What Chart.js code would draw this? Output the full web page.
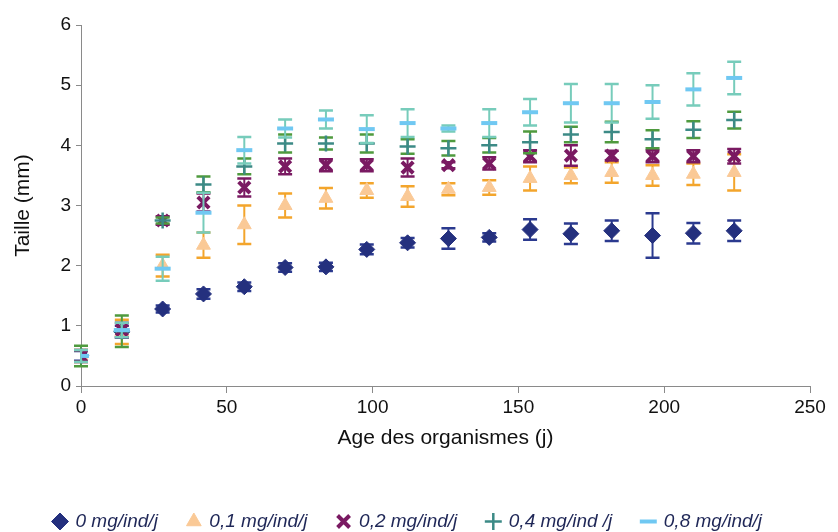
<!DOCTYPE html>
<html>
<head>
<meta charset="utf-8">
<style>
  html, body { margin: 0; padding: 0; background: #fff; }
  #wrap { width: 838px; height: 532px; }
</style>
<script src="https://cdn.jsdelivr.net/npm/chart.js@4.4.1/dist/chart.umd.min.js"></script>
</head>
<body>
<div id="wrap"><canvas id="myCanvas" width="838" height="532"></canvas></div>
<script>
'use strict';

// days (x)
var days = [0, 14, 28, 42, 56, 70, 84, 98, 112, 126, 140, 154, 168, 182, 196, 210, 224];

// series labels
var seriesNames = ['0 mg/ind/j', '0,1 mg/ind/j', '0,2 mg/ind/j', '0,4 mg/ind /j', '0,8 mg/ind/j'];

// mean size (mm) per series
var dose0  = [0.5, 0.9, 1.28, 1.53, 1.65, 1.97, 1.98, 2.27, 2.38, 2.45, 2.47, 2.6, 2.53, 2.58, 2.5, 2.54, 2.58];
var dose01 = [0.5, 0.9, 2.0, 2.34, 2.68, 3.0, 3.12, 3.25, 3.15, 3.27, 3.3, 3.45, 3.5, 3.55, 3.5, 3.52, 3.55];
var dose02 = [0.5, 0.93, 2.75, 3.05, 3.3, 3.65, 3.67, 3.67, 3.63, 3.67, 3.7, 3.82, 3.83, 3.83, 3.82, 3.82, 3.82];
var dose04 = [0.5, 0.91, 2.75, 3.35, 3.65, 4.03, 4.03, 4.03, 3.98, 3.95, 4.0, 4.05, 4.18, 4.22, 4.1, 4.26, 4.42];
var dose08 = [0.5, 0.93, 1.95, 2.88, 3.92, 4.28, 4.43, 4.27, 4.37, 4.28, 4.37, 4.55, 4.7, 4.7, 4.72, 4.93, 5.12];

// error (+/-) per series
var err0  = [0.08, 0.1, 0.06, 0.08, 0.07, 0.07, 0.07, 0.08, 0.08, 0.17, 0.07, 0.17, 0.17, 0.17, 0.37, 0.17, 0.17];
var err01 = [0.1, 0.2, 0.18, 0.21, 0.32, 0.2, 0.17, 0.12, 0.17, 0.1, 0.12, 0.2, 0.13, 0.17, 0.17, 0.18, 0.3];
var err02 = [0.1, 0.12, 0.07, 0.15, 0.15, 0.13, 0.1, 0.1, 0.15, 0.05, 0.1, 0.1, 0.17, 0.08, 0.1, 0.1, 0.12];
var err04 = [0.17, 0.26, 0.05, 0.13, 0.13, 0.15, 0.1, 0.15, 0.12, 0.12, 0.12, 0.18, 0.13, 0.17, 0.15, 0.14, 0.14];
var err08 = [0.1, 0.12, 0.2, 0.33, 0.22, 0.15, 0.15, 0.23, 0.23, 0.05, 0.23, 0.22, 0.32, 0.32, 0.28, 0.27, 0.27];

// ticks
var xTicks = [0, 50, 100, 150, 200, 250];
var yTicks = [0, 1, 2, 3, 4, 5, 6];

var FONT = '"Liberation Sans", Arial, sans-serif';

function toPoints(values) {
    return days.map(function (d, i) { return { x: d, y: values[i] }; });
}

// draw error bars under each dataset's markers
var errorBars = {
    id: 'errorBars',
    beforeDatasetDraw: function (chart, args) {
        var ds = chart.data.datasets[args.index];
        if (!ds.errors) return;
        var yScale = chart.scales.y,
            ctx = chart.ctx;
        ctx.save();
        ctx.strokeStyle = ds.errorColor;
        args.meta.data.forEach(function (pt, i) {
            var v = ds.data[i].y,
                e = ds.errors[i],
                top = yScale.getPixelForValue(v + e),
                bot = yScale.getPixelForValue(v - e),
                x = pt.x;
            ctx.lineWidth = 2;
            ctx.beginPath();
            ctx.moveTo(x, top);
            ctx.lineTo(x, bot);
            ctx.stroke();
            ctx.lineWidth = 2.5;
            ctx.beginPath();
            ctx.moveTo(x - 7, top); ctx.lineTo(x + 7, top);
            ctx.moveTo(x - 7, bot); ctx.lineTo(x + 7, bot);
            ctx.stroke();
        });
        ctx.restore();
    }
};

var ctx = document.getElementById('myCanvas').getContext('2d');
var chart = new Chart(ctx, {
    type: 'scatter',
    data: {
        datasets: [
            {
                label: seriesNames[0],
                data: toPoints(dose0),
                errors: err0,
                errorColor: '#2b3a8f',
                pointStyle: 'rectRot',
                pointRadius: 8,
                backgroundColor: '#24307e',
                borderColor: '#24307e',
                borderWidth: 1,
                order: 5
            },
            {
                label: seriesNames[1],
                data: toPoints(dose01),
                errors: err01,
                errorColor: '#f3a52c',
                pointStyle: 'triangle',
                pointRadius: 8,
                backgroundColor: '#fac996',
                borderColor: '#fac996',
                borderWidth: 1,
                order: 4
            },
            {
                label: seriesNames[2],
                data: toPoints(dose02),
                errors: err02,
                errorColor: '#7a1a62',
                pointStyle: 'crossRot',
                pointRadius: 8,
                backgroundColor: '#7a1a62',
                borderColor: '#7a1a62',
                borderWidth: 4,
                order: 3
            },
            {
                label: seriesNames[3],
                data: toPoints(dose04),
                errors: err04,
                errorColor: '#4f9a3e',
                pointStyle: 'cross',
                pointRadius: 8,
                backgroundColor: '#3c8a86',
                borderColor: '#3c8a86',
                borderWidth: 2.5,
                order: 2
            },
            {
                label: seriesNames[4],
                data: toPoints(dose08),
                errors: err08,
                errorColor: '#77ccbb',
                pointStyle: 'line',
                pointRadius: 8,
                backgroundColor: '#70c8f2',
                borderColor: '#70c8f2',
                borderWidth: 4,
                order: 1
            }
        ]
    },
    plugins: [errorBars],
    options: {
        responsive: false,
        animation: false,
        layout: { padding: { left: 6, right: 28, top: 25, bottom: -9 } },
        scales: {
            x: {
                type: 'linear',
                min: 0,
                max: 250,
                afterBuildTicks: function (scale) {
                    scale.ticks = xTicks.map(function (v) { return { value: v }; });
                },
                ticks: { color: '#111', font: { family: FONT, size: 19 }, padding: 3 },
                grid: { display: true, drawOnChartArea: false, drawTicks: true, tickLength: 7, color: '#8a8a8a' },
                border: { color: '#8a8a8a', width: 1 },
                title: {
                    display: true,
                    text: 'Age des organismes (j)',
                    color: '#111',
                    font: { family: FONT, size: 21 },
                    padding: { top: 4, bottom: 31 }
                }
            },
            y: {
                min: 0,
                max: 6,
                afterBuildTicks: function (scale) {
                    scale.ticks = yTicks.map(function (v) { return { value: v }; });
                },
                afterFit: function (scale) { scale.width = 75; },
                ticks: { color: '#111', font: { family: FONT, size: 19 }, padding: 5 },
                grid: { display: true, drawOnChartArea: false, drawTicks: true, tickLength: 5, color: '#8a8a8a' },
                border: { color: '#8a8a8a', width: 1 },
                title: {
                    display: true,
                    text: 'Taille (mm)',
                    color: '#111',
                    font: { family: FONT, size: 21 },
                    padding: { top: 5, bottom: 6 }
                }
            }
        },
        plugins: {
            tooltip: { enabled: false },
            legend: {
                position: 'bottom',
                labels: {
                    usePointStyle: true,
                    boxWidth: 12,
                    boxHeight: 12,
                    padding: 30,
                    color: '#1f2757',
                    font: { family: FONT, size: 19, style: 'italic' },
                    sort: function (a, b) { return a.datasetIndex - b.datasetIndex; }
                }
            }
        }
    }
});
</script>
</body>
</html>
